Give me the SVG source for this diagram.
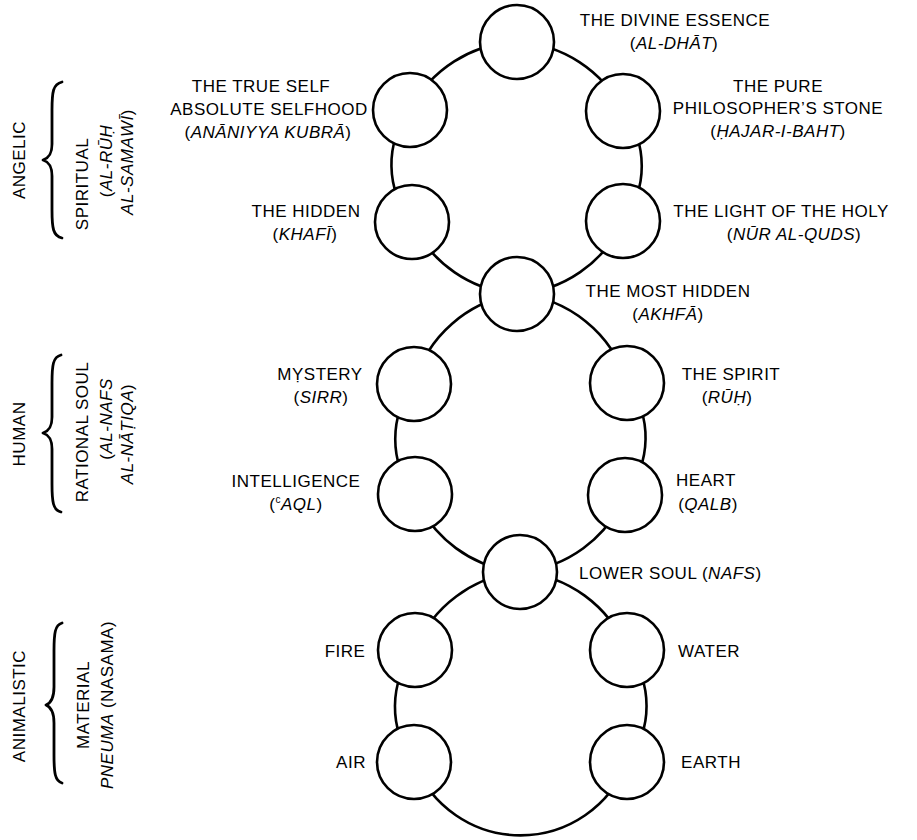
<svg xmlns="http://www.w3.org/2000/svg" width="917" height="840" viewBox="0 0 917 840">
<style>
  .bg{fill:#ffffff}
  .node{fill:#ffffff;stroke:#000000;stroke-width:2.6}
  .conn{fill:none;stroke:#000000;stroke-width:2.6}
  .brace{fill:none;stroke:#000000;stroke-width:2.8;stroke-linecap:round;stroke-linejoin:round}
  text{font-family:"Liberation Sans",Arial,Helvetica,sans-serif;font-size:17px;fill:#000000;letter-spacing:0.5px}
  .c{text-anchor:middle}
  .i{font-style:italic}
  .sup{font-size:10px}
</style>
<rect class="bg" x="0" y="0" width="917" height="840"/>

<g id="connectors">
  <path class="conn" d="M517,42 A125,125 0 0 1 623,111"/>
  <path class="conn" d="M623,111 A90,90 0 0 1 623,221"/>
  <path class="conn" d="M623,221 A125,125 0 0 1 517,294"/>
  <path class="conn" d="M517,294 A125,125 0 0 1 412,222"/>
  <path class="conn" d="M412,222 A90,90 0 0 1 410,110"/>
  <path class="conn" d="M410,110 A125,125 0 0 1 517,42"/>

  <path class="conn" d="M517,294 A125,125 0 0 1 627,383"/>
  <path class="conn" d="M627,383 A90,90 0 0 1 625,495"/>
  <path class="conn" d="M625,495 A125,125 0 0 1 520,572"/>
  <path class="conn" d="M520,572 A125,125 0 0 1 414,494"/>
  <path class="conn" d="M414,494 A90,90 0 0 1 414,384"/>
  <path class="conn" d="M414,384 A125,125 0 0 1 517,294"/>

  <path class="conn" d="M520,572 A125,125 0 0 1 627,650"/>
  <path class="conn" d="M627,650 A90,90 0 0 1 627,762"/>
  <path class="conn" d="M627,762 A114,114 0 0 1 414,762"/>
  <path class="conn" d="M414,762 A90,90 0 0 1 415,650"/>
  <path class="conn" d="M415,650 A125,125 0 0 1 520,572"/>
</g>

<g id="n_essence"><circle class="node" cx="517" cy="42" r="37"/>
  <text class="c" x="675" y="26">THE DIVINE ESSENCE</text>
  <text class="c" x="674" y="49">(<tspan class="i">AL-DHĀT</tspan>)</text></g>

<g id="n_trueself"><circle class="node" cx="410" cy="110" r="37"/>
  <text class="c" x="261" y="92">THE TRUE SELF</text>
  <text class="c" x="269" y="115">ABSOLUTE SELFHOOD</text>
  <text class="c" x="268" y="138">(<tspan class="i">ANĀNIYYA KUBRĀ</tspan>)</text></g>

<g id="n_stone"><circle class="node" cx="623" cy="111" r="37"/>
  <text class="c" x="778" y="92">THE PURE</text>
  <text class="c" x="778" y="114">PHILOSOPHER’S STONE</text>
  <text class="c" x="778" y="137">(<tspan class="i">ḤAJAR-I-BAHT</tspan>)</text></g>

<g id="n_hidden"><circle class="node" cx="412" cy="222" r="37"/>
  <text class="c" x="306" y="217">THE HIDDEN</text>
  <text class="c" x="305" y="240">(<tspan class="i">KHAFĪ</tspan>)</text></g>

<g id="n_light"><circle class="node" cx="623" cy="221" r="37"/>
  <text class="c" x="781" y="217">THE LIGHT OF THE HOLY</text>
  <text class="c" x="794" y="240">(<tspan class="i">NŪR AL-QUDS</tspan>)</text></g>

<g id="n_mosthidden"><circle class="node" cx="517" cy="294" r="37"/>
  <text class="c" x="668" y="297">THE MOST HIDDEN</text>
  <text class="c" x="668" y="320">(<tspan class="i">AKHFĀ</tspan>)</text></g>

<g id="n_mystery"><circle class="node" cx="414" cy="384" r="37"/>
  <text class="c" x="320" y="380">MỴSTERY</text>
  <text class="c" x="321" y="403">(<tspan class="i">SIRR</tspan>)</text></g>

<g id="n_spirit"><circle class="node" cx="627" cy="383" r="37"/>
  <text class="c" x="731" y="380">THE SPIRIT</text>
  <text class="c" x="727" y="403">(<tspan class="i">RŪḤ</tspan>)</text></g>

<g id="n_intel"><circle class="node" cx="415" cy="494" r="37"/>
  <text class="c" x="296" y="487">INTELLIGENCE</text>
  <text class="c" x="296" y="510">(<tspan class="sup" dy="-7">c</tspan><tspan class="i" dy="7">AQL</tspan>)</text></g>

<g id="n_heart"><circle class="node" cx="625" cy="495" r="37"/>
  <text class="c" x="706" y="486">HEART</text>
  <text class="c" x="708" y="510">(<tspan class="i">QALB</tspan>)</text></g>

<g id="n_lower"><circle class="node" cx="520" cy="572" r="37"/>
  <text x="579" y="579">LOWER SOUL (<tspan class="i">NAFS</tspan>)</text></g>

<g id="n_fire"><circle class="node" cx="415" cy="650" r="37"/>
  <text class="c" x="345" y="657">FIRE</text></g>

<g id="n_water"><circle class="node" cx="627" cy="650" r="37"/>
  <text class="c" x="709" y="657">WATER</text></g>

<g id="n_air"><circle class="node" cx="414" cy="762" r="37"/>
  <text class="c" x="351" y="768">AIR</text></g>

<g id="n_earth"><circle class="node" cx="627" cy="762" r="37"/>
  <text class="c" x="711" y="768">EARTH</text></g>

<g id="levels">
  <text class="c" transform="translate(25,160) rotate(-90)">ANGELIC</text>
  <path class="brace" d="M62,82 C53,84 52,92 52,110 L52,144 C52,154 49,158 43,160 C49,162 52,166 52,176 L52,210 C52,228 53,236 62,238"/>
  <text class="c" transform="translate(88,184) rotate(-90)">SPIRITUAL</text>
  <text class="c" transform="translate(112,161) rotate(-90)">(<tspan class="i">AL-RŪḤ</tspan></text>
  <text class="c" transform="translate(133,162) rotate(-90)"><tspan class="i">AL-SAMAWĪ</tspan>)</text>

  <text class="c" transform="translate(25,434) rotate(-90)">HUMAN</text>
  <path class="brace" d="M61,355 C53,357 52,365 52,383 L52,417 C52,427 49,431 43,433 C49,435 52,439 52,449 L52,484 C52,502 53,510 61,512"/>
  <text class="c" transform="translate(88,432) rotate(-90)">RATIONAL SOUL</text>
  <text class="c" transform="translate(112,419) rotate(-90)">(<tspan class="i">AL-NAFS</tspan></text>
  <text class="c" transform="translate(133,434) rotate(-90)"><tspan class="i">AL-NĀṬIQA</tspan>)</text>

  <text class="c" transform="translate(25,706) rotate(-90)">ANIMALISTIC</text>
  <path class="brace" d="M62,623 C55,625 54,633 54,651 L54,687 C54,697 51,703 46,705 C51,707 54,713 54,723 L54,755 C54,773 55,781 62,783"/>
  <text class="c" transform="translate(89,705) rotate(-90)">MATERIAL</text>
  <text class="c" transform="translate(113,705) rotate(-90)"><tspan class="i">PNEUMA</tspan> (NASAMA)</text>
</g>
</svg>
